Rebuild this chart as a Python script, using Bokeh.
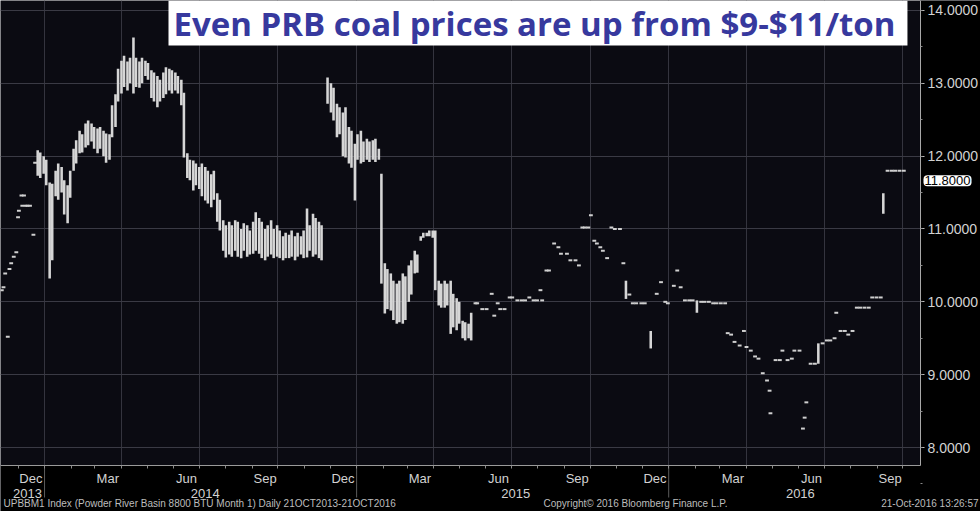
import math
import pandas as pd
from bokeh.plotting import figure
from bokeh.models import (Range1d, FixedTicker, PrintfTickFormatter, Label,
                          ColumnDataSource, DatetimeAxis, DatetimeTickFormatter,
                          BoxAnnotation)
from bokeh.embed import file_html
from bokeh.resources import INLINE

# ---------------- data ----------------
dense_dates = [
    "2013-12-24", "2013-12-27", "2013-12-31", "2014-01-03", "2014-01-07", "2014-01-10",
    "2014-01-14", "2014-01-17", "2014-01-21", "2014-01-24", "2014-01-28", "2014-01-31",
    "2014-02-04", "2014-02-07", "2014-02-11", "2014-02-14", "2014-02-18", "2014-02-21",
    "2014-02-25", "2014-02-28", "2014-03-04", "2014-03-07", "2014-03-11", "2014-03-14",
    "2014-03-18", "2014-03-21", "2014-03-25", "2014-03-28", "2014-04-01", "2014-04-04",
    "2014-04-08", "2014-04-11", "2014-04-15", "2014-04-18", "2014-04-22", "2014-04-25",
    "2014-04-29", "2014-05-02", "2014-05-06", "2014-05-09", "2014-05-13", "2014-05-16",
    "2014-05-20", "2014-05-23", "2014-05-27", "2014-05-30", "2014-06-03", "2014-06-06",
    "2014-06-10", "2014-06-13", "2014-06-17", "2014-06-20", "2014-06-24", "2014-06-27",
    "2014-07-01", "2014-07-04", "2014-07-08", "2014-07-11", "2014-07-15", "2014-07-18",
    "2014-07-22", "2014-07-25", "2014-07-29", "2014-08-01", "2014-08-05", "2014-08-08",
    "2014-08-12", "2014-08-15", "2014-08-19", "2014-08-22", "2014-08-26", "2014-08-29",
    "2014-09-02", "2014-09-05", "2014-09-09", "2014-09-12", "2014-09-16", "2014-09-19",
    "2014-09-23", "2014-09-26", "2014-09-30", "2014-10-03", "2014-10-07", "2014-10-10",
    "2014-10-14", "2014-10-17", "2014-10-21", "2014-10-24", "2014-10-28", "2014-10-31",
    "2014-11-04", "2014-11-07", "2014-11-11", "2014-11-14", "2014-11-18", "2014-11-21",
    "2014-11-28", "2014-12-02", "2014-12-05", "2014-12-09", "2014-12-12", "2014-12-16",
    "2014-12-19", "2014-12-23", "2014-12-26", "2014-12-30", "2015-01-02", "2015-01-06",
    "2015-01-09", "2015-01-13", "2015-01-16", "2015-01-20", "2015-01-23", "2015-01-27",
    "2015-01-30", "2015-02-03", "2015-02-06", "2015-02-10", "2015-02-13", "2015-02-17",
    "2015-02-20", "2015-02-24", "2015-02-27", "2015-03-03", "2015-03-06", "2015-03-10",
    "2015-03-13", "2015-03-17", "2015-03-20", "2015-03-24", "2015-03-27", "2015-03-31",
    "2015-04-03", "2015-04-07", "2015-04-10", "2015-04-14", "2015-04-17", "2015-04-21",
    "2015-04-24", "2015-04-28", "2015-05-01", "2015-05-05", "2015-05-08", "2015-05-12",
    "2015-05-15",
    "2015-11-12", "2015-12-11", "2016-02-03", "2016-06-24", "2016-09-08",
]
dense_highs = [
    12.08, 12.05, 12.00, 11.95, 11.64, 11.62, 11.80, 11.90, 11.85, 11.67, 11.60, 11.80,
    12.10, 12.22, 12.35, 12.30, 12.45, 12.49, 12.45, 12.40, 12.38, 12.40, 12.35, 12.31,
    12.30, 12.70, 12.85, 13.20, 13.31, 13.38, 13.30, 13.35, 13.63, 13.35, 13.30, 13.35,
    13.31, 13.28, 13.18, 13.15, 13.10, 13.05, 13.15, 13.22, 13.20, 13.18, 13.15, 13.10,
    13.05, 12.87, 12.04, 11.95, 11.94, 11.90, 11.85, 11.90, 11.85, 11.80, 11.75, 11.80,
    11.49, 11.40, 11.12, 11.05, 11.10, 11.05, 11.12, 11.10, 11.00, 11.08, 11.05, 10.98,
    11.10, 11.23, 11.15, 11.10, 11.00, 11.05, 11.12, 11.00, 11.05, 10.98, 10.90, 10.95,
    10.92, 10.98, 10.90, 10.95, 10.90, 10.98, 11.28, 11.05, 11.21, 11.15, 11.10, 11.05,
    13.08, 13.00, 12.94, 12.72, 12.67, 12.60, 12.67, 12.40, 12.35, 12.17, 12.30, 12.35,
    12.20, 12.24, 12.20, 12.22, 12.24, 12.10, 11.76, 10.53, 10.45, 10.39, 10.29, 10.25,
    10.29, 10.39, 10.35, 10.50, 10.57, 10.70, 10.65, 10.90, 10.95, 10.95, 10.98, 10.98,
    10.98, 10.29, 10.25, 10.29, 10.25, 10.29, 10.11, 10.05, 10.00, 9.74, 9.72, 9.70,
    9.85,
    10.29, 9.60, 10.02, 9.43, 11.49,
]
dense_lows = [
    11.73, 11.70, 11.76, 11.60, 10.32, 10.57, 11.45, 11.40, 11.50, 11.20, 11.08, 11.43,
    11.80, 11.90, 12.04, 12.05, 12.12, 12.15, 12.20, 12.10, 12.04, 12.10, 12.00, 11.91,
    11.95, 12.26, 12.40, 12.75, 12.86, 12.95, 12.90, 13.00, 12.86, 12.95, 12.94, 13.00,
    13.10, 13.05, 12.80, 12.75, 12.67, 12.75, 12.80, 12.85, 12.90, 12.86, 12.90, 12.86,
    12.70, 11.98, 11.70, 11.67, 11.53, 11.60, 11.55, 11.45, 11.39, 11.35, 11.30, 11.40,
    11.10, 10.98, 10.70, 10.61, 10.65, 10.62, 10.70, 10.62, 10.60, 10.70, 10.62, 10.65,
    10.66, 10.70, 10.66, 10.60, 10.57, 10.62, 10.65, 10.60, 10.62, 10.60, 10.57, 10.60,
    10.60, 10.62, 10.57, 10.62, 10.65, 10.60, 10.61, 10.70, 10.62, 10.65, 10.60, 10.57,
    12.72, 12.60, 12.49, 12.26, 12.30, 12.00, 11.98, 11.90, 11.84, 11.39, 11.95, 11.90,
    11.92, 11.95, 11.92, 11.95, 11.92, 11.95, 10.25, 9.84, 9.90, 9.88, 9.75, 9.70,
    9.72, 9.70, 9.75, 10.00, 10.10, 10.39, 10.40, 10.84, 10.88, 10.90, 10.90, 10.88,
    10.16, 9.95, 9.92, 9.92, 9.95, 9.56, 9.65, 9.61, 9.70, 9.50, 9.47, 9.50,
    9.47,
    10.04, 9.36, 9.85, 9.15, 11.21,
]

tick_dates = [
    "2013-11-12", "2013-11-14", "2013-11-16",
    "2013-11-19", "2013-11-21", "2013-11-23", "2013-11-26", "2013-11-29", "2013-12-01",
    "2013-12-02", "2013-12-05", "2013-12-06", "2013-12-08", "2013-12-10", "2013-12-12",
    "2013-12-15", "2013-12-19", "2013-12-21",
    "2015-05-20", "2015-05-22", "2015-05-28", "2015-06-02", "2015-06-08", "2015-06-11",
    "2015-06-15", "2015-06-18", "2015-06-23", "2015-06-29", "2015-07-02", "2015-07-08",
    "2015-07-13", "2015-07-17", "2015-07-22", "2015-07-27", "2015-07-31", "2015-08-04",
    "2015-08-06", "2015-08-11", "2015-08-14", "2015-08-20", "2015-08-25", "2015-08-28",
    "2015-09-04", "2015-09-08", "2015-09-14", "2015-09-18", "2015-09-22", "2015-09-25",
    "2015-09-29", "2015-10-02", "2015-10-06", "2015-10-09", "2015-10-13", "2015-10-16",
    "2015-10-21", "2015-10-26", "2015-10-30", "2015-11-05", "2015-11-09", "2015-11-16",
    "2015-11-20", "2015-11-24", "2015-11-30", "2015-12-04", "2015-12-18", "2015-12-23",
    "2015-12-28", "2015-12-31", "2016-01-07", "2016-01-11", "2016-01-15", "2016-01-20",
    "2016-01-25", "2016-01-29", "2016-02-08", "2016-02-12", "2016-02-17", "2016-02-22",
    "2016-02-26", "2016-03-02", "2016-03-07", "2016-03-10", "2016-03-14", "2016-03-18",
    "2016-03-24", "2016-03-29", "2016-04-01", "2016-04-06", "2016-04-11", "2016-04-15",
    "2016-04-20", "2016-04-25", "2016-04-28", "2016-04-29", "2016-05-05", "2016-05-10",
    "2016-05-13", "2016-05-19", "2016-05-24", "2016-05-27", "2016-06-02", "2016-06-06",
    "2016-06-08", "2016-06-10", "2016-06-15", "2016-06-20", "2016-06-29", "2016-07-04",
    "2016-07-08", "2016-07-13", "2016-07-15", "2016-07-20", "2016-07-25", "2016-07-29",
    "2016-08-03", "2016-08-08", "2016-08-12", "2016-08-17", "2016-08-22", "2016-08-26",
    "2016-08-31", "2016-09-05", "2016-09-13", "2016-09-18", "2016-09-22", "2016-09-27",
    "2016-10-02",
]
tick_prices = [
    10.16, 10.20, 10.39,
    9.52, 10.45, 10.53, 10.62, 10.68, 11.16,
    11.25, 11.46, 11.32, 11.46, 11.32, 11.32,
    11.32, 10.92, 11.91,
    9.98, 9.98, 9.90, 9.90, 10.11, 9.81,
    9.98, 9.90, 9.90, 10.06, 10.06, 10.02,
    10.02, 10.02, 10.06, 10.02, 10.02, 10.16,
    10.02, 10.43, 10.43, 10.80, 10.75, 10.66,
    10.66, 10.57, 10.57, 10.50, 11.02, 11.02,
    11.02, 11.19, 10.84, 10.80, 10.75, 10.70,
    10.60, 11.02, 11.00, 11.00, 10.53, 10.10,
    9.98, 9.98, 9.98, 9.98, 10.11, 10.27,
    10.00, 9.98, 10.22, 10.43, 10.20, 10.02,
    10.02, 10.02, 10.00, 10.00, 10.00, 9.98,
    9.98, 9.98, 9.98, 9.57, 9.55, 9.45,
    9.40, 9.60, 9.38, 9.33, 9.25, 9.22,
    9.02, 8.92, 8.78, 8.47, 9.20, 9.20,
    9.33, 9.20, 9.22, 9.33, 9.33, 8.26,
    8.41, 8.62, 9.15, 9.15, 9.43, 9.47,
    9.47, 9.50, 9.85, 9.60, 9.60, 9.55,
    9.60, 9.92, 9.92, 9.92, 9.92, 10.06,
    10.06, 10.06, 11.80, 11.80, 11.80, 11.80,
    11.80,
]
last_price = 11.80

price_ticks = [8, 9, 10, 11, 12, 13, 14]
month_label_dates = ["2013-12-16", "2014-03-16", "2014-06-16", "2014-09-16", "2014-12-16",
                     "2015-03-16", "2015-06-16", "2015-09-16", "2015-12-16", "2016-03-16",
                     "2016-06-16", "2016-09-16"]
year_label_dates = ["2013-12-12", "2014-07-08", "2015-07-06", "2016-06-03"]
year_starts = ["2014-01-01", "2015-01-01", "2016-01-01"]
quarter_starts = ["2014-01-01", "2014-04-01", "2014-07-01", "2014-10-01", "2015-01-01",
                  "2015-04-01", "2015-07-01", "2015-10-01", "2016-01-01", "2016-04-01",
                  "2016-07-01", "2016-10-01"]

title_text = "Even PRB coal prices are up from $9-$11/ton"
footer_left = "UPBBM1 Index (Powder River Basin 8800 BTU Month 1)  Daily 21OCT2013-21OCT2016"
footer_mid = "Copyright\u00a9 2016 Bloomberg Finance L.P."
footer_right = "21-Oct-2016 13:26:57"

# ---------------- layout ----------------
DAY = 86400000.0


def ms(s):
    return pd.Timestamp(s).value / 1e6


W, H = 980, 511              # whole canvas
PLOT_W, PLOT_H = 920, 465    # price area (left/top part of the canvas)
X_START, X_END = ms("2013-11-10 12:00"), ms("2016-10-21 12:00")
Y_TOP, Y_BOTTOM = 14.137, 7.753
canvas_x_end = X_START + (X_END - X_START) * W / PLOT_W
canvas_y_low = Y_TOP - (Y_TOP - Y_BOTTOM) * H / PLOT_H

FONT = "Liberation Sans"
TXT = "#d2d2d2"

p = figure(width=W, height=H, x_axis_type="datetime", y_axis_location="right",
           x_range=Range1d(X_START, canvas_x_end), y_range=Range1d(canvas_y_low, Y_TOP),
           output_backend="svg", toolbar_location=None, min_border=0,
           background_fill_color="#0b0b12", border_fill_color="black",
           outline_line_color=None)

# grids
p.xgrid.ticker = FixedTicker(ticks=[ms(d) for d in quarter_starts])
p.ygrid.ticker = FixedTicker(ticks=price_ticks)
p.xgrid.grid_line_color = "#34343e"
p.ygrid.grid_line_color = "#3a3a44"

# black margins right of and below the price area (hide the grid there)
p.add_layout(BoxAnnotation(left=X_END, fill_color="black", fill_alpha=1.0,
                           line_color=None, level="glyph"))
p.add_layout(BoxAnnotation(top=Y_BOTTOM, fill_color="black", fill_alpha=1.0,
                           line_color=None, level="glyph"))

# x axis: month names, monthly minor ticks
xax = p.xaxis[0]
xax.fixed_location = Y_BOTTOM
xax.bounds = (X_START, X_END)
xax.ticker = FixedTicker(ticks=[ms(d) for d in month_label_dates],
                         minor_ticks=[ms(d) for d in pd.date_range("2013-12-01", "2016-10-01", freq="MS")])
xax.formatter = DatetimeTickFormatter(days="%b", months="%b", years="%b")
xax.major_tick_out = 0
xax.major_tick_in = 0
xax.minor_tick_out = 3
xax.minor_tick_in = 0
xax.minor_tick_line_color = "#8a8a8a"
xax.axis_line_color = "#9a9a9a"
xax.major_label_standoff = 2
xax.major_label_text_font = FONT
xax.major_label_text_font_size = "13px"
xax.major_label_text_color = TXT

# second x axis: year names
year_axis = DatetimeAxis(fixed_location=Y_BOTTOM,
                         ticker=FixedTicker(ticks=[ms(d) for d in year_label_dates]),
                         formatter=DatetimeTickFormatter(days="%Y", months="%Y", years="%Y"),
                         axis_line_color=None, major_tick_line_color=None,
                         minor_tick_line_color=None, major_label_standoff=17,
                         major_label_text_font=FONT, major_label_text_font_size="13px",
                         major_label_text_color=TXT)
p.add_layout(year_axis, "below")

# year dividers below the axis
p.ray(x=[ms(d) for d in year_starts], y=Y_BOTTOM, length=32, length_units="screen",
      angle=-math.pi / 2, line_color="#5c5c5c", line_width=1, level="guide")

# y axis on the right
yax = p.yaxis[0]
yax.fixed_location = X_END
yax.bounds = (Y_BOTTOM, Y_TOP)
yax.ticker = FixedTicker(ticks=price_ticks, minor_ticks=[7.5 + 0.5 * i for i in range(14)])
yax.formatter = PrintfTickFormatter(format="%.4f")
yax.major_label_text_font = FONT
yax.major_label_text_font_size = "14px"
yax.major_label_text_color = TXT
yax.major_label_standoff = 3
yax.major_tick_out = 4
yax.major_tick_in = 0
yax.minor_tick_out = 2
yax.minor_tick_in = 0
yax.major_tick_line_color = "#bbbbbb"
yax.minor_tick_line_color = "#888888"
yax.axis_line_color = "#a8a8a8"

# price bars
bar_src = ColumnDataSource(dict(x=[ms(d) for d in dense_dates], top=dense_highs, bottom=dense_lows))
p.vbar(x="x", top="top", bottom="bottom", width=3.0 * DAY, source=bar_src,
       fill_color="#d6d6d6", line_color=None)

# single-price days (flat ticks)
tick_src = ColumnDataSource(dict(x=[ms(d) for d in tick_dates], y=tick_prices))
p.rect(x="x", y="y", width=4.5 * DAY, height=2, height_units="screen", source=tick_src,
       fill_color="#d0d0d0", line_color=None)

# footer
for txt, xpos, align in [(footer_left, 3, "left"), (footer_mid, 543, "left"),
                         (footer_right, W - 2, "right")]:
    p.add_layout(Label(x=xpos, y=8, x_units="screen", y_units="screen", text=txt,
                       text_align=align, text_baseline="middle", text_color="#bdbdbd",
                       text_font=FONT, text_font_size="10px"))

# last price tag
p.add_layout(Label(x=X_END, y=last_price, x_offset=3, y_offset=-10,
                   text=f"{last_price:.4f}", text_baseline="middle", text_align="left",
                   text_color="black", text_font=FONT, text_font_size="13px",
                   background_fill_color="white", padding=1, border_radius=4))

# headline box
p.add_layout(Label(x=168, y=H - 45, x_units="screen", y_units="screen",
                   text=title_text, text_align="left", text_baseline="bottom",
                   text_color="#37399e", text_font="Open Sans", text_font_style="bold",
                   text_font_size="33px", background_fill_color="white",
                   padding=dict(left=5, right=12, top=0, bottom=0)))

open("out.html", "w").write(file_html(p, INLINE))
